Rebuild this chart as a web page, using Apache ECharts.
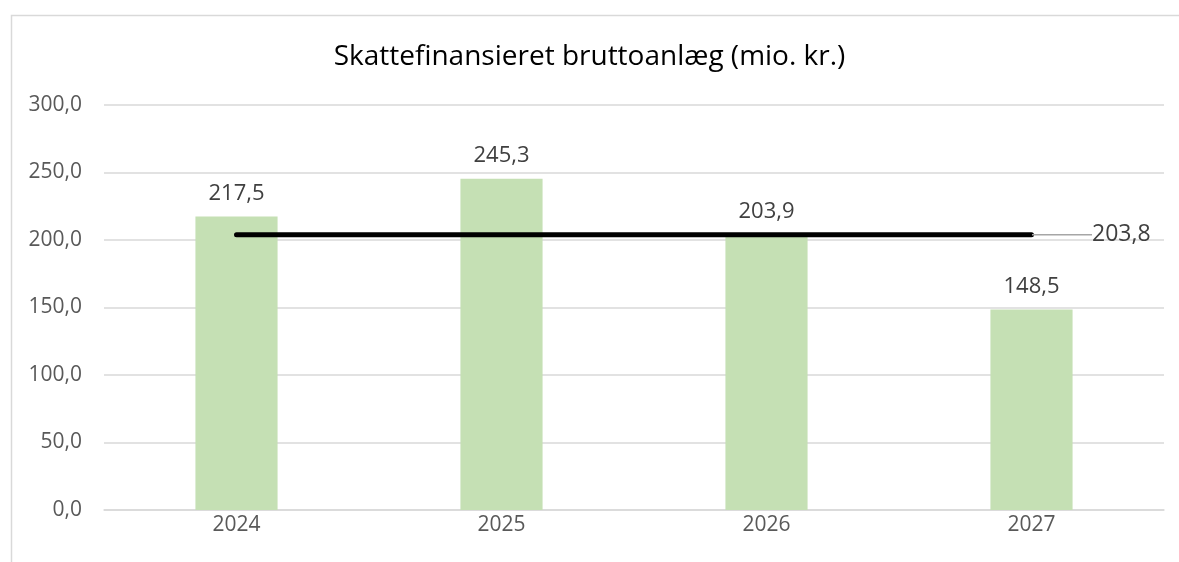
<!DOCTYPE html>
<html style="height: 100%">
<head>
    <meta charset="utf-8">
</head>
<body style="height: 100%; margin: 0; background: #fff">
<div id="container" style="width: 1179px; height: 562px"></div>
<script src="https://cdn.jsdelivr.net/npm/echarts@6/dist/echarts.min.js"></script>
<script type="text/javascript">
    // data
    var years = ['2024', '2025', '2026', '2027'];
    var anlaeg = [217.5, 245.3, 203.9, 148.5];
    var gennemsnit = [203.8, 203.8, 203.8, 203.8];

    function komma(v) {
        return v.toFixed(1).replace('.', ',');
    }

    var dom = document.getElementById('container');
    var myChart = echarts.init(dom);
    var font = '"Open Sans", "Noto Sans", sans-serif';

    var option = {
        animation: false,
        graphic: [{
            type: 'rect',
            left: 9, top: 13,
            shape: { width: 1200, height: 600 },
            style: { fill: 'none', stroke: '#d9d9d9', lineWidth: 1.5 },
            silent: true
        }],
        title: {
            text: 'Skattefinansieret bruttoanlæg (mio. kr.)',
            left: 'center',
            top: 38,
            textStyle: { fontFamily: font, fontSize: 28, fontWeight: 'normal', color: '#000' }
        },
        grid: { left: 104, right: 15, top: 105, bottom: 52 },
        xAxis: {
            type: 'category',
            data: years,
            axisTick: { show: false },
            axisLine: { lineStyle: { color: '#d9d9d9', width: 1.5 } },
            axisLabel: { color: '#595959', fontSize: 21, fontFamily: font, margin: 5 }
        },
        yAxis: {
            type: 'value',
            min: 0, max: 300, interval: 50,
            axisLabel: {
                color: '#595959', fontSize: 21, fontFamily: font, margin: 22,
                formatter: function (v) { return komma(v); }
            },
            splitLine: { lineStyle: { color: '#d9d9d9', width: 1.5 } }
        },
        series: [
            {
                type: 'bar',
                data: anlaeg,
                barWidth: '31%',
                itemStyle: { color: '#c5e0b4' },
                label: {
                    show: true, position: 'top', distance: 12,
                    color: '#404040', fontSize: 22, fontFamily: font,
                    formatter: function (p) { return komma(p.value); }
                }
            },
            {
                type: 'line',
                data: gennemsnit,
                symbol: 'circle',
                symbolSize: 1,
                itemStyle: { color: '#000' },
                lineStyle: { color: '#000', width: 5, cap: 'round' },
                label: {
                    show: true, position: 'right', distance: 0,
                    color: '#404040', fontSize: 23, fontFamily: font,
                    formatter: function (p) { return p.dataIndex === years.length - 1 ? komma(p.value) : ''; }
                },
                labelLayout: function (p) {
                    return p.dataIndex === years.length - 1 ? { dx: 60 } : {};
                },
                labelLine: { show: true, lineStyle: { color: '#a6a6a6', width: 1.5 } }
            }
        ]
    };

    myChart.setOption(option);
</script>
</body>
</html>
